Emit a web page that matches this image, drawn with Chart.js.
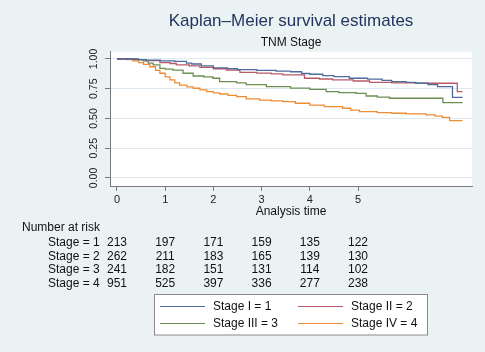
<!DOCTYPE html>
<html>
<head>
<meta charset="utf-8">
<script src="https://cdn.jsdelivr.net/npm/chart.js@4.4.1/dist/chart.umd.min.js"></script>
<style>
  html, body { margin: 0; padding: 0; background: #eaf2f3; }
  #wrap { width: 485px; height: 352px; }
</style>
</head>
<body>
<div id="wrap"><canvas id="kmChart" width="485" height="352"></canvas></div>
<script>
// ===== DATA =====
const stageLabels = ['Stage I = 1', 'Stage II = 2', 'Stage III = 3', 'Stage IV = 4'];
const stageColors = ['#4f6a9c', '#b85a68', '#6b8f52', '#f08c34'];

const stage1Time = [0, 0.45, 0.6, 0.9, 1.2, 1.44, 1.55, 1.75, 2.0, 2.3, 2.5, 2.9, 3.3, 3.6, 3.83, 4.0, 4.27, 4.5, 4.82, 5.2, 5.5, 5.7, 6.0, 6.2, 6.45, 6.65, 6.96, 7.17];
const stage1Surv = [1, 0.995, 0.99, 0.985, 0.98, 0.965, 0.958, 0.942, 0.925, 0.918, 0.91, 0.905, 0.898, 0.893, 0.878, 0.872, 0.86, 0.852, 0.838, 0.83, 0.82, 0.81, 0.803, 0.796, 0.785, 0.768, 0.678, 0.678];

const stage2Time = [0, 0.4, 0.6, 0.89, 1.1, 1.23, 1.5, 1.72, 2.0, 2.27, 2.55, 2.9, 3.2, 3.44, 3.89, 4.2, 4.47, 4.9, 5.24, 5.7, 6.2, 7.06, 7.17];
const stage2Surv = [1, 0.994, 0.986, 0.97, 0.962, 0.95, 0.942, 0.93, 0.918, 0.907, 0.888, 0.882, 0.875, 0.866, 0.838, 0.832, 0.824, 0.815, 0.804, 0.8, 0.796, 0.725, 0.725];

const stage3Time = [0, 0.35, 0.54, 0.65, 0.75, 0.89, 1.0, 1.16, 1.37, 1.58, 1.8, 1.99, 2.13, 2.48, 2.68, 3.1, 3.6, 4.0, 4.34, 4.6, 4.96, 5.17, 5.4, 5.65, 6.76, 7.17];
const stage3Surv = [1, 0.995, 0.985, 0.965, 0.95, 0.922, 0.915, 0.907, 0.88, 0.857, 0.85, 0.838, 0.81, 0.8, 0.785, 0.767, 0.755, 0.745, 0.725, 0.718, 0.711, 0.689, 0.68, 0.67, 0.633, 0.633];

const stage4Time = [0, 0.2, 0.33, 0.45, 0.55, 0.68, 0.8, 0.89, 1.0, 1.1, 1.2, 1.3, 1.45, 1.58, 1.72, 1.86, 2.0, 2.13, 2.3, 2.48, 2.68, 2.96, 3.2, 3.44, 3.7, 4.0, 4.3, 4.68, 4.85, 5.03, 5.4, 5.7, 6.0, 6.41, 6.6, 6.75, 6.9, 7.17];
const stage4Surv = [1, 0.995, 0.985, 0.97, 0.955, 0.935, 0.905, 0.88, 0.85, 0.824, 0.8, 0.78, 0.765, 0.754, 0.74, 0.725, 0.715, 0.706, 0.695, 0.683, 0.665, 0.655, 0.648, 0.641, 0.628, 0.613, 0.6, 0.586, 0.57, 0.557, 0.55, 0.544, 0.538, 0.53, 0.52, 0.51, 0.482, 0.482];

const xTicks = [0, 1, 2, 3, 4, 5];
const yTicks = [0, 0.25, 0.5, 0.75, 1];

// number at risk, one column per x tick
const riskRowLabels = ['Stage = 1', 'Stage = 2', 'Stage = 3', 'Stage = 4'];
const riskStage1 = [213, 197, 171, 159, 135, 122];
const riskStage2 = [262, 211, 183, 165, 139, 130];
const riskStage3 = [241, 182, 151, 131, 114, 102];
const riskStage4 = [951, 525, 397, 336, 277, 238];

const FONT = "'Liberation Sans', Arial, sans-serif";

function toPoints(t, s) {
  return t.map((v, i) => ({ x: v, y: s[i] }));
}

const seriesTimes = [stage1Time, stage2Time, stage3Time, stage4Time];
const seriesSurv = [stage1Surv, stage2Surv, stage3Surv, stage4Surv];
const riskRows = [riskStage1, riskStage2, riskStage3, riskStage4];

// ===== PLUGINS =====
const backdrop = {
  id: 'backdrop',
  beforeDraw(chart) {
    const { ctx, chartArea: a } = chart;
    ctx.save();
    ctx.fillStyle = '#eaf2f3';
    ctx.fillRect(0, 0, chart.width, chart.height);
    ctx.fillStyle = '#ffffff';
    ctx.fillRect(a.left, a.top, a.right - a.left, a.bottom - a.top);
    ctx.restore();
  }
};

const riskTable = {
  id: 'riskTable',
  afterDraw(chart) {
    const { ctx } = chart;
    const xs = chart.scales.x;
    ctx.save();
    ctx.font = '12px ' + FONT;
    ctx.fillStyle = '#111';
    ctx.textBaseline = 'middle';
    ctx.textAlign = 'left';
    ctx.fillText('Number at risk', 22, 228);
    riskRows.forEach((row, r) => {
      const y = 242.5 + r * 13.8;
      ctx.textAlign = 'left';
      ctx.fillText(riskRowLabels[r], 48, y);
      ctx.textAlign = 'center';
      row.forEach((n, i) => ctx.fillText(String(n), xs.getPixelForValue(xTicks[i]), y));
    });
    ctx.restore();
  }
};

const boxLegend = {
  id: 'boxLegend',
  afterDraw(chart) {
    const { ctx } = chart;
    ctx.save();
    ctx.fillStyle = '#ffffff';
    ctx.fillRect(154.5, 294.5, 273, 40.5);
    ctx.strokeStyle = '#8a8a8a';
    ctx.lineWidth = 1;
    ctx.strokeRect(154.5, 294.5, 273, 40.5);
    ctx.font = '12px ' + FONT;
    ctx.textBaseline = 'middle';
    ctx.textAlign = 'left';
    chart.data.datasets.forEach((ds, i) => {
      const col = i % 2, row = Math.floor(i / 2);
      const lx = col === 0 ? 160 : 298;
      const y = row === 0 ? 306.5 : 323.5;
      ctx.strokeStyle = ds.borderColor;
      ctx.lineWidth = 1.2;
      ctx.beginPath();
      ctx.moveTo(lx, y);
      ctx.lineTo(lx + 45, y);
      ctx.stroke();
      ctx.fillStyle = '#111';
      ctx.fillText(ds.label, lx + 53, y);
    });
    ctx.restore();
  }
};

// ===== CHART =====
new Chart(document.getElementById('kmChart'), {
  type: 'line',
  data: {
    datasets: stageLabels.map((label, i) => ({
      label,
      data: toPoints(seriesTimes[i], seriesSurv[i]),
      borderColor: stageColors[i],
      backgroundColor: stageColors[i],
      borderWidth: 1.3,
      pointRadius: 0,
      stepped: 'before',
      fill: false
    }))
  },
  options: {
    responsive: false,
    animation: false,
    events: [],
    layout: { padding: { left: 0, right: 13, top: 0, bottom: 130 } },
    plugins: {
      legend: { display: false },
      tooltip: { enabled: false },
      title: {
        display: true,
        fullSize: false,
        text: 'Kaplan\u2013Meier survival estimates',
        color: '#22355e',
        font: { family: FONT, size: 17, weight: 'normal' },
        padding: { top: 11, bottom: 3 }
      },
      subtitle: {
        display: true,
        fullSize: false,
        text: 'TNM Stage',
        color: '#111',
        font: { family: FONT, size: 12, weight: 'normal' },
        padding: { top: 1.4, bottom: 1.5 }
      }
    },
    scales: {
      x: {
        type: 'linear',
        min: -0.145,
        max: 7.365,
        afterBuildTicks: (s) => { s.ticks = xTicks.map(v => ({ value: v })); },
        afterFit: (s) => { s.height = 36; },
        grid: { drawOnChartArea: false, tickLength: 5, tickColor: '#7a7a7a' },
        border: { color: '#7a7a7a' },
        ticks: { color: '#222', font: { family: FONT, size: 11 }, padding: 2, maxRotation: 0 },
        title: {
          display: true,
          text: 'Analysis time',
          color: '#111',
          font: { family: FONT, size: 12 },
          padding: { top: 0, bottom: 3 }
        }
      },
      y: {
        min: -0.0673,
        max: 1.0613,
        afterBuildTicks: (s) => { s.ticks = yTicks.map(v => ({ value: v })); },
        afterFit: (s) => { s.width = 110; },
        grid: { color: '#dde8f1', tickLength: 5, tickColor: '#7a7a7a' },
        border: { color: '#7a7a7a' },
        ticks: {
          color: '#222',
          font: { family: FONT, size: 10.5 },
          minRotation: 90,
          maxRotation: 90,
          crossAlign: 'center',
          padding: 1,
          callback: (v) => Number(v).toFixed(2)
        }
      }
    }
  },
  plugins: [backdrop, riskTable, boxLegend]
});
</script>
</body>
</html>
